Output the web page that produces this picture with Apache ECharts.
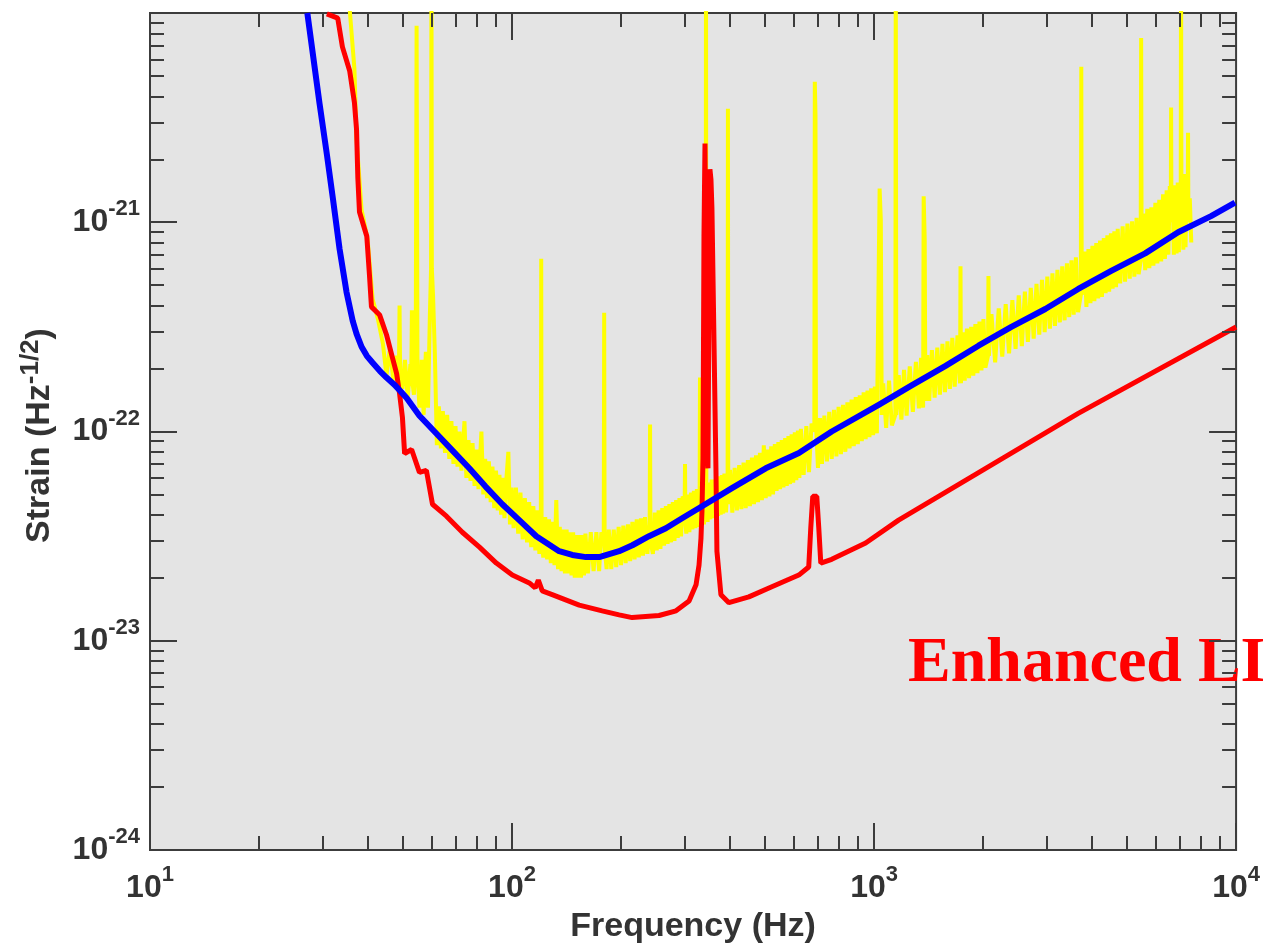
<!DOCTYPE html>
<html>
<head>
<meta charset="utf-8">
<title>Strain sensitivity</title>
<script src="https://cdn.jsdelivr.net/npm/echarts@6/dist/echarts.min.js"></script>
<style>
html, body { margin: 0; padding: 0; background: #fff; }
#chart { width: 1263px; height: 949px; }
</style>
</head>
<body>
<div id="chart"></div>
<script>
// tick positions (Hz / strain)
var xMajorTicks = [10, 100, 1000, 10000];
var xMinorTicks = [20, 30, 40, 50, 60, 70, 80, 90,
                   200, 300, 400, 500, 600, 700, 800, 900,
                   2000, 3000, 4000, 5000, 6000, 7000, 8000, 9000];
var yMajorTicks = [1e-24, 1e-23, 1e-22, 1e-21, 1e-20];
var yLabelTicks = [1e-24, 1e-23, 1e-22, 1e-21];
var yMinorTicks = [2e-24, 3e-24, 4e-24, 5e-24, 6e-24, 7e-24, 8e-24, 9e-24,
                   2e-23, 3e-23, 4e-23, 5e-23, 6e-23, 7e-23, 8e-23, 9e-23,
                   2e-22, 3e-22, 4e-22, 5e-22, 6e-22, 7e-22, 8e-22, 9e-22,
                   2e-21, 3e-21, 4e-21, 5e-21, 6e-21, 7e-21, 8e-21, 9e-21];

// blue: design curve [Hz, strain]
var designCurve = [
  [27.2, 1.0e-20], [29.4, 3.69e-21], [30.8, 2.11e-21], [32.0, 1.30e-21], [33.4, 7.43e-22],
  [34.9, 4.64e-22], [36.3, 3.38e-22], [37.2, 2.93e-22], [38.4, 2.54e-22], [39.7, 2.30e-22],
  [41.2, 2.13e-22], [43.1, 1.95e-22], [45.0, 1.81e-22], [47.4, 1.67e-22], [51.1, 1.45e-22],
  [55.5, 1.19e-22], [61.8, 9.78e-23], [68.4, 8.13e-23], [76.2, 6.67e-23], [84.4, 5.47e-23],
  [94.0, 4.49e-23], [104.7, 3.77e-23], [116.7, 3.16e-23], [135, 2.68e-23], [146.7, 2.57e-23],
  [160, 2.51e-23], [174.1, 2.51e-23], [197.6, 2.68e-23], [215, 2.86e-23], [239, 3.16e-23],
  [266, 3.45e-23], [295, 3.85e-23], [328, 4.30e-23], [405, 5.36e-23], [502, 6.67e-23],
  [620, 7.9e-23], [764, 1.0e-22], [1030, 1.34e-22], [1270, 1.66e-22], [1576, 2.06e-22],
  [1943, 2.57e-22], [2395, 3.16e-22], [2972, 3.85e-22], [3665, 4.80e-22], [4519, 5.85e-22],
  [5609, 7.1e-22], [6917, 8.96e-22], [8527, 1.07e-21], [9931, 1.24e-21]
];

// red: enhanced curve
var enhancedCurve = [
  [30.8, 9.9e-21], [33.0, 9.46e-21], [34.0, 6.89e-21], [35.6, 5.30e-21], [36.7, 3.73e-21],
  [37.2, 2.77e-21], [37.5, 1.64e-21], [37.9, 1.12e-21], [39.7, 8.58e-22], [40.4, 5.53e-22],
  [40.9, 3.94e-22], [43.1, 3.60e-22], [45.0, 2.90e-22], [46.5, 2.33e-22], [48.0, 1.89e-22],
  [48.9, 1.52e-22], [49.8, 1.17e-22], [50.5, 7.85e-23], [52.8, 8.2e-23], [55.5, 6.38e-23],
  [58.0, 6.52e-23], [60.3, 4.49e-23], [65.9, 3.94e-23], [72.9, 3.30e-23], [81.3, 2.80e-23],
  [90.5, 2.35e-23], [100.2, 2.06e-23], [111.6, 1.89e-23], [115.9, 1.79e-23], [118.2, 1.95e-23],
  [121.2, 1.73e-23], [129.1, 1.66e-23], [153.3, 1.48e-23], [177.4, 1.39e-23], [197.6, 1.33e-23],
  [214.7, 1.29e-23], [254.7, 1.32e-23], [283.8, 1.39e-23], [308.3, 1.55e-23], [322.3, 1.85e-23],
  [328.5, 2.30e-23], [332.6, 3.09e-23], [334.7, 4.16e-23], [336.9, 7.43e-23], [339.0, 8.58e-22],
  [341.2, 2.38e-21], [343.4, 2.38e-21], [345.5, 9.27e-23], [347.7, 6.67e-23], [349.9, 4.30e-22],
  [352.1, 1.79e-21], [354.4, 1.60e-21], [356.6, 1.17e-21], [361.2, 2.77e-22], [365.8, 6.67e-23],
  [368.1, 2.68e-23], [377.6, 1.66e-23], [397.2, 1.52e-23], [451.0, 1.62e-23], [522.0, 1.81e-23],
  [619.6, 2.06e-23], [660.0, 2.25e-23], [668.6, 3.45e-23], [677.2, 4.90e-23], [694.7, 4.90e-23],
  [703.6, 3.45e-23], [712.6, 2.35e-23], [764.0, 2.45e-23], [948, 2.93e-23], [1169, 3.77e-23],
  [3665, 1.22e-22], [10000, 3.16e-22]
];

// yellow: measured spectrum (band + lines)
var measuredCurve = [
  [35.6, 1.05e-20], [36.7, 5.4e-21], [37.2, 2.5e-21], [38.4, 1.15e-21], [39.9, 8.3e-22],
  [41.2, 4.3e-22], [42.6, 3.45e-22], [44.0, 2.62e-22], [45.0, 1.85e-22], [46.0, 2.5e-22],
  [47.0, 1.75e-22], [48.0, 2.3e-22], [48.7, 1.9e-22], [48.9, 4.0e-22], [49.1, 1.8e-22],
  [49.8, 1.6e-22], [50.6, 2.2e-22], [51.5, 1.45e-22], [52.4, 2.1e-22], [52.7, 1.9e-22],
  [52.9, 3.8e-22], [53.1, 1.7e-22], [53.6, 1.5e-22], [54.2, 2.2e-22], [54.5, 8.7e-21],
  [54.8, 2.0e-22], [55.5, 1.3e-22], [56.3, 2.2e-22], [57.0, 1.2e-22], [57.8, 2.4e-22],
  [58.6, 1.3e-22], [59.3, 3.6e-22], [59.75, 6.0e-22], [59.9, 2.0e-20], [60.05, 6.0e-22],
  [60.5, 4.5e-22], [61.2, 2.4e-22], [62.0, 8.6e-23], [62.8, 1.32e-22], [63.6, 8.3e-23],
  [64.4, 1.25e-22], [65.3, 7.9e-23], [66.2, 1.2e-22], [67.1, 7.4e-23], [68.0, 1.12e-22],
  [68.9, 7.0e-23], [69.8, 1.06e-22], [70.7, 6.8e-23], [71.6, 1.0e-22], [72.5, 6.5e-23],
  [73.9, 1.12e-22], [74.8, 6.0e-23], [75.8, 9.1e-23], [76.8, 5.8e-23], [77.8, 8.8e-23],
  [78.8, 5.5e-23], [79.8, 8.2e-23], [80.8, 5.3e-23], [82.3, 1.0e-22], [83.3, 5.0e-23],
  [84.3, 7.4e-23], [85.3, 4.8e-23], [86.3, 7.2e-23], [87.3, 4.6e-23], [88.3, 6.8e-23],
  [89.3, 4.3e-23], [90.3, 6.5e-23], [91.3, 4.2e-23], [92.3, 6.2e-23], [93.3, 4.0e-23],
  [94.3, 6.0e-23], [95.3, 3.85e-23], [96.3, 5.7e-23], [97.7, 8.0e-23], [98.7, 3.6e-23],
  [99.7, 5.4e-23], [101.0, 3.45e-23], [102.5, 5.4e-23], [104.0, 3.25e-23], [105.5, 5.1e-23],
  [107.0, 3.05e-23], [108.5, 4.8e-23], [110.0, 2.95e-23], [111.5, 4.6e-23], [113.0, 2.8e-23],
  [114.5, 4.4e-23], [116.0, 2.7e-23], [117.5, 4.2e-23], [119.0, 2.6e-23], [120.1, 3.5e-23],
  [120.4, 6.7e-22], [120.7, 3.0e-23], [122.0, 2.5e-23], [123.5, 3.9e-23], [125.0, 2.45e-23],
  [126.5, 3.8e-23], [128.0, 2.35e-23], [129.5, 3.7e-23], [131.0, 2.3e-23], [132.5, 4.7e-23],
  [134.0, 2.2e-23], [135.5, 3.5e-23], [137.0, 2.15e-23], [138.5, 3.4e-23], [140.0, 2.1e-23],
  [141.5, 3.4e-23], [143.0, 2.1e-23], [144.5, 3.3e-23], [146.0, 2.05e-23], [147.5, 3.3e-23],
  [149.0, 2.0e-23], [150.5, 3.2e-23], [152.0, 2.0e-23], [153.5, 3.2e-23], [155.0, 2.0e-23],
  [156.5, 3.2e-23], [158.0, 2.05e-23], [159.5, 3.25e-23], [162, 2.1e-23], [165, 3.3e-23],
  [168, 2.15e-23], [171, 3.3e-23], [174, 2.15e-23], [176.5, 3.3e-23], [179.2, 3.0e-23],
  [179.7, 3.69e-22], [180.2, 2.8e-23], [182.5, 2.2e-23], [185, 3.4e-23], [188, 2.2e-23],
  [191, 3.4e-23], [194, 2.25e-23], [197, 3.5e-23], [200, 2.3e-23], [203, 3.55e-23],
  [206, 2.35e-23], [209, 3.6e-23], [212, 2.4e-23], [215, 3.7e-23], [218, 2.45e-23],
  [221, 3.8e-23], [224, 2.5e-23], [227, 3.85e-23], [230, 2.55e-23], [233, 3.9e-23],
  [236.5, 2.6e-23], [240.0, 3.6e-23], [240.6, 1.08e-22], [241.2, 3.0e-23], [245, 2.6e-23],
  [248, 4.1e-23], [251, 2.7e-23], [254, 4.2e-23], [257, 2.75e-23], [260, 4.3e-23],
  [263, 2.85e-23], [266, 4.4e-23], [269, 2.9e-23], [272, 4.5e-23], [275, 2.95e-23],
  [278, 4.6e-23], [281, 3.0e-23], [284, 4.7e-23], [287, 3.1e-23], [290, 4.8e-23],
  [293, 3.15e-23], [296, 4.9e-23], [299.8, 4.5e-23], [300.5, 7.0e-23], [301.2, 3.6e-23],
  [303, 3.25e-23], [306, 5.0e-23], [309, 3.3e-23], [312, 5.1e-23], [315, 3.4e-23],
  [318, 5.2e-23], [321, 3.45e-23], [324, 5.3e-23], [327, 3.5e-23], [329.8, 5.0e-23],
  [330.5, 1.81e-22], [331.2, 5.0e-23], [333, 3.55e-23], [336, 5.5e-23], [339, 3.6e-23],
  [342.6, 5.0e-23], [343.4, 2.0e-20], [344.2, 5.0e-23], [347, 3.7e-23], [350, 5.7e-23],
  [353, 3.8e-23], [356, 5.9e-23], [359, 3.85e-23], [362, 5.9e-23], [365, 3.9e-23],
  [368, 6.0e-23], [371, 3.95e-23], [374, 6.1e-23], [377, 4.0e-23], [380, 6.2e-23],
  [383, 4.05e-23], [386, 6.3e-23], [390, 4.1e-23], [394.0, 6.0e-23], [394.8, 3.49e-21],
  [395.6, 4.5e-23], [400, 6.55e-23], [406, 4.1e-23], [412, 6.7e-23], [418, 4.2e-23],
  [424, 6.9e-23], [430, 4.25e-23], [436, 7.1e-23], [442, 4.3e-23], [448, 7.3e-23],
  [454, 4.4e-23], [460, 7.5e-23], [466, 4.5e-23], [472, 7.7e-23], [478, 4.6e-23],
  [484, 7.9e-23], [490, 4.7e-23], [496, 8.6e-23], [502, 4.8e-23], [508, 8.2e-23],
  [514, 4.9e-23], [520, 8.5e-23], [526, 5.0e-23], [532, 8.7e-23], [538, 5.2e-23],
  [544, 8.9e-23], [550, 5.3e-23], [556, 9.1e-23], [562, 5.4e-23], [568, 9.3e-23],
  [574, 5.5e-23], [580, 9.5e-23], [586, 5.6e-23], [592, 9.7e-23], [598, 5.7e-23],
  [604, 9.9e-23], [610, 5.85e-23], [616, 1.01e-22], [622, 6.0e-23], [628, 1.03e-22],
  [639, 6.2e-23], [650, 1.06e-22], [661, 6.4e-23], [672, 1.09e-22], [684, 1.0e-22],
  [686, 4.69e-21], [689, 3.27e-21], [691, 1.1e-22], [700, 6.7e-23], [709, 1.16e-22],
  [718, 7.0e-23], [729, 1.19e-22], [741, 7.2e-23], [752, 1.24e-22], [764, 7.4e-23],
  [775, 1.27e-22], [787, 7.6e-23], [798, 1.31e-22], [810, 7.8e-23], [821, 1.34e-22],
  [833, 8.0e-23], [844, 1.38e-22], [856, 8.3e-23], [867, 1.42e-22], [879, 8.5e-23],
  [890, 1.46e-22], [902, 8.7e-23], [913, 1.49e-22], [925, 9.0e-23], [936, 1.54e-22],
  [948, 9.2e-23], [959, 1.57e-22], [971, 9.4e-23], [982, 1.61e-22], [994, 9.6e-23],
  [1005, 1.64e-22], [1018, 9.8e-23], [1030, 1.0e-22], [1036, 1.45e-21], [1044, 1.02e-21],
  [1050, 1.2e-22], [1060, 1.70e-22], [1080, 1.04e-22], [1100, 1.75e-22], [1120, 1.07e-22],
  [1145, 1.2e-22], [1148, 2.0e-20], [1152, 1.2e-22], [1170, 1.86e-22], [1190, 1.14e-22],
  [1210, 1.97e-22], [1230, 1.19e-22], [1255, 2.05e-22], [1280, 1.24e-22], [1305, 2.15e-22],
  [1330, 1.29e-22], [1348, 2.25e-22], [1366, 1.3e-22], [1371, 1.33e-21], [1380, 8.3e-22],
  [1386, 1.4e-22], [1403, 2.32e-22], [1420, 1.40e-22], [1445, 2.45e-22], [1470, 1.45e-22],
  [1495, 2.52e-22], [1520, 1.50e-22], [1545, 2.62e-22], [1570, 1.54e-22], [1595, 2.7e-22],
  [1620, 1.60e-22], [1645, 2.8e-22], [1670, 1.64e-22], [1700, 2.88e-22], [1728, 1.7e-22],
  [1733, 6.17e-22], [1738, 1.7e-22], [1758, 2.98e-22], [1780, 1.75e-22], [1805, 3.1e-22],
  [1830, 1.80e-22], [1855, 3.16e-22], [1880, 1.85e-22], [1905, 3.26e-22], [1930, 1.90e-22],
  [1955, 3.35e-22], [1980, 1.96e-22], [2005, 3.45e-22], [2030, 2.02e-22], [2064, 2.3e-22],
  [2070, 5.53e-22], [2076, 2.3e-22], [2110, 3.64e-22], [2160, 2.14e-22], [2210, 3.88e-22],
  [2260, 2.28e-22], [2310, 4.06e-22], [2360, 2.36e-22], [2410, 4.25e-22], [2460, 2.48e-22],
  [2510, 4.47e-22], [2560, 2.56e-22], [2610, 4.66e-22], [2660, 2.68e-22], [2710, 4.86e-22],
  [2760, 2.78e-22], [2810, 5.08e-22], [2860, 2.9e-22], [2910, 5.30e-22], [2960, 2.98e-22],
  [3010, 5.5e-22], [3060, 3.1e-22], [3110, 5.70e-22], [3160, 3.2e-22], [3210, 5.93e-22],
  [3260, 3.32e-22], [3310, 6.16e-22], [3360, 3.4e-22], [3410, 6.37e-22], [3460, 3.52e-22],
  [3510, 6.58e-22], [3560, 3.62e-22], [3610, 6.8e-22], [3660, 3.72e-22], [3725, 4.5e-22],
  [3736, 5.53e-21], [3747, 4.5e-22], [3810, 7.24e-22], [3860, 3.94e-22], [3910, 7.45e-22],
  [3960, 4.1e-22], [4010, 7.72e-22], [4060, 4.2e-22], [4110, 7.95e-22], [4160, 4.32e-22],
  [4210, 8.17e-22], [4260, 4.4e-22], [4310, 8.4e-22], [4360, 4.58e-22], [4410, 8.67e-22],
  [4460, 4.66e-22], [4510, 8.85e-22], [4560, 4.82e-22], [4610, 9.06e-22], [4660, 4.9e-22],
  [4710, 9.3e-22], [4785, 5.1e-22], [4860, 9.56e-22], [4935, 5.2e-22], [5010, 9.85e-22],
  [5085, 5.38e-22], [5160, 1.01e-21], [5235, 5.5e-22], [5310, 1.05e-21], [5380, 5.65e-22],
  [5450, 6.5e-22], [5467, 7.6e-21], [5484, 6.5e-22], [5540, 1.1e-21], [5610, 5.9e-22],
  [5685, 1.16e-21], [5760, 6.04e-22], [5835, 1.18e-21], [5910, 6.2e-22], [5985, 1.24e-21],
  [6060, 6.35e-22], [6135, 1.28e-21], [6210, 6.5e-22], [6285, 1.36e-21], [6360, 6.67e-22],
  [6430, 1.42e-21], [6500, 7.0e-22], [6560, 1.49e-21], [6600, 1.0e-21], [6615, 3.53e-21],
  [6630, 1.0e-21], [6680, 1.45e-21], [6730, 7.0e-22], [6790, 1.5e-21], [6850, 7.1e-22],
  [6900, 1.55e-21], [6950, 7.2e-22], [7000, 1.55e-21], [7030, 1.0e-21], [7047, 2.0e-20],
  [7064, 1.0e-21], [7100, 1.6e-21], [7150, 7.4e-22], [7200, 1.7e-21], [7250, 7.6e-22],
  [7300, 1.6e-21], [7350, 1.0e-21], [7367, 2.68e-21], [7384, 1.0e-21], [7450, 1.30e-21],
  [7520, 8.0e-22]
];

var AXIS_COLOR = '#3c3c3c';
var LABEL_COLOR = '#333333';
var FONT = '"Liberation Sans", Arial, sans-serif';

var labelRich = {
  b: { fontSize: 32, fontWeight: 'bold', fontFamily: FONT, color: LABEL_COLOR, lineHeight: 48 },
  s: { fontSize: 22, fontWeight: 'bold', fontFamily: FONT, color: LABEL_COLOR, lineHeight: 4, verticalAlign: 'top' }
};

function powLabel(v) {
  return '{b|10}{s|' + Math.round(Math.log10(v)) + '}';
}

// one log axis; major/minor ticks are drawn by two overlapping axes
function makeAxis(dim, pos, major) {
  var isX = dim === 'x';
  return {
    type: 'log',
    logBase: 10,
    min: isX ? 10 : 1e-24,
    max: isX ? 10000 : 1e-20,
    position: pos,
    z: 5,
    axisLine: { show: false, onZero: false },
    splitLine: { show: false },
    minorTick: { show: false },
    axisTick: {
      show: true,
      inside: true,
      length: major ? 27 : 14,
      customValues: major ? (isX ? xMajorTicks : yMajorTicks) : (isX ? xMinorTicks : yMinorTicks),
      lineStyle: { color: AXIS_COLOR, width: 2 }
    },
    axisLabel: { show: false }
  };
}

var xMain = makeAxis('x', 'bottom', true);
xMain.axisLabel = {
  show: true,
  customValues: xMajorTicks,
  margin: 14,
  formatter: powLabel,
  rich: labelRich
};
xMain.name = 'Frequency (Hz)';
xMain.nameLocation = 'middle';
xMain.nameGap = 60;
xMain.nameTextStyle = { fontSize: 34, fontWeight: 'bold', fontFamily: FONT, color: LABEL_COLOR };

var yMain = makeAxis('y', 'left', true);
yMain.axisLabel = {
  show: true,
  customValues: yLabelTicks,
  margin: 10,
  formatter: powLabel,
  rich: labelRich
};
yMain.name = '{n|Strain (Hz}{s|-1/2}{n|)}';
yMain.nameLocation = 'middle';
yMain.nameGap = 88;
yMain.nameRotate = 90;
yMain.nameTextStyle = {
  padding: [0, 8, 0, 0],
  rich: {
    n: { fontSize: 34, fontWeight: 'bold', fontFamily: FONT, color: LABEL_COLOR, lineHeight: 44 },
    s: { fontSize: 26, fontWeight: 'bold', fontFamily: FONT, color: LABEL_COLOR, lineHeight: 4, verticalAlign: 'top' }
  }
};

var option = {
  animation: false,
  backgroundColor: '#ffffff',
  grid: {
    left: 150, top: 13, width: 1088, height: 840,
    show: true,
    backgroundColor: '#e4e4e4',
    borderColor: AXIS_COLOR,
    borderWidth: 2
  },
  xAxis: [
    xMain,
    makeAxis('x', 'bottom', false),
    makeAxis('x', 'top', true),
    makeAxis('x', 'top', false)
  ],
  yAxis: [
    yMain,
    makeAxis('y', 'left', false),
    makeAxis('y', 'right', true),
    makeAxis('y', 'right', false)
  ],
  graphic: [{
    type: 'text',
    left: 908,
    top: 632,
    z: 1,
    style: {
      text: 'Enhanced LI',
      fill: '#ff0000',
      font: 'bold 64px "Liberation Serif", "Times New Roman", serif'
    }
  }],
  series: [
    {
      name: 'measured', type: 'line', data: measuredCurve,
      xAxisIndex: 0, yAxisIndex: 0,
      showSymbol: false, symbol: 'none', clip: true, silent: true, z: 2,
      lineStyle: { color: '#ffff00', width: 4 }
    },
    {
      name: 'enhanced', type: 'line', data: enhancedCurve,
      xAxisIndex: 0, yAxisIndex: 0,
      showSymbol: false, symbol: 'none', clip: true, silent: true, z: 3,
      lineStyle: { color: '#ff0000', width: 5 }
    },
    {
      name: 'design', type: 'line', data: designCurve,
      xAxisIndex: 0, yAxisIndex: 0,
      showSymbol: false, symbol: 'none', clip: true, silent: true, z: 4,
      lineStyle: { color: '#0000ff', width: 6, join: 'round' }
    }
  ]
};

var myChart = echarts.init(document.getElementById('chart'));
myChart.setOption(option);
window.addEventListener('resize', function () {
  myChart.resize();
});
</script>
</body>
</html>
